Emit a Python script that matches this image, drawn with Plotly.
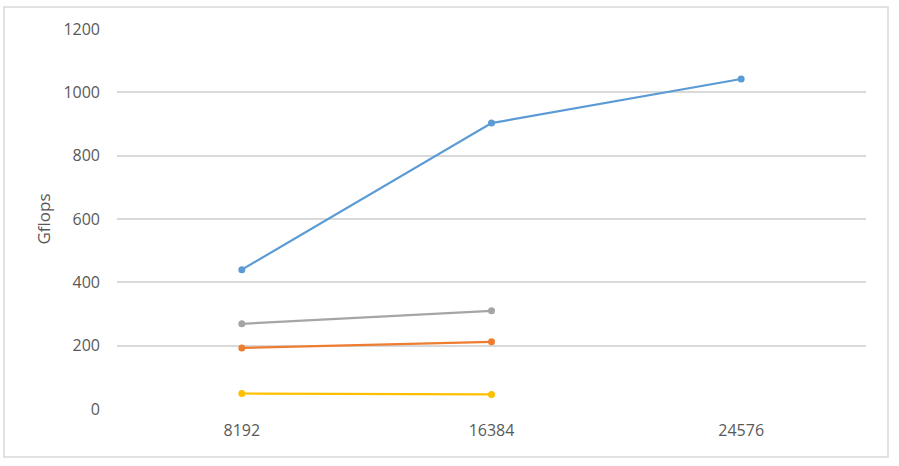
import plotly.graph_objects as go

categories = ["8192", "16384", "24576"]
series_blue = [440, 903, 1042]
series_gray = [269, 310, None]
series_orange = [193, 212, None]
series_yellow = [49, 46, None]
y_ticks = [0, 200, 400, 600, 800, 1000, 1200]

colors = {"blue": "#5B9BD5", "gray": "#A5A5A5", "orange": "#ED7D31", "yellow": "#FFC000"}

fig = go.Figure()
for name, vals, col in [
    ("blue", series_blue, colors["blue"]),
    ("gray", series_gray, colors["gray"]),
    ("orange", series_orange, colors["orange"]),
    ("yellow", series_yellow, colors["yellow"]),
]:
    fig.add_trace(go.Scatter(
        x=categories, y=vals, mode="lines+markers", name=name,
        line=dict(color=col, width=2.2),
        marker=dict(color=col, size=7),
        connectgaps=False,
    ))

L, R, T, B = 117, 33, 29, 57
W, H = 899, 466
pw, ph = W - L - R, H - T - B

def px_x(x):
    return (x - L) / pw

def px_y(y):
    return (H - B - y) / ph

fig.add_shape(type="rect", xref="paper", yref="paper",
              x0=px_x(4), x1=px_x(888), y0=px_y(457), y1=px_y(7),
              line=dict(color="#D9D9D9", width=1.5), fillcolor="rgba(0,0,0,0)", layer="below")

fig.update_layout(
    width=W, height=H,
    margin=dict(l=L, r=R, t=T, b=B),
    paper_bgcolor="white", plot_bgcolor="white",
    showlegend=False,
    font=dict(family="Open Sans, Liberation Sans, sans-serif", size=16, color="#595959"),
    xaxis=dict(type="category", range=[-0.5, 2.5], showgrid=False, zeroline=False,
               showline=False, ticks="", ticklabelstandoff=10,
               tickfont=dict(size=16, color="#595959")),
    yaxis=dict(range=[0, 1200], tickvals=y_ticks, showgrid=True, gridcolor="#D9D9D9",
               gridwidth=1.5, zeroline=False, showline=False, ticks="",
               ticklabelstandoff=16,
               tickfont=dict(size=16, color="#595959"),
               title=dict(text="Gflops", font=dict(size=17, color="#595959"), standoff=8)),
)

fig.write_html("out.html", config={"displayModeBar": False},
               post_script="document.body.style.margin='0';")
